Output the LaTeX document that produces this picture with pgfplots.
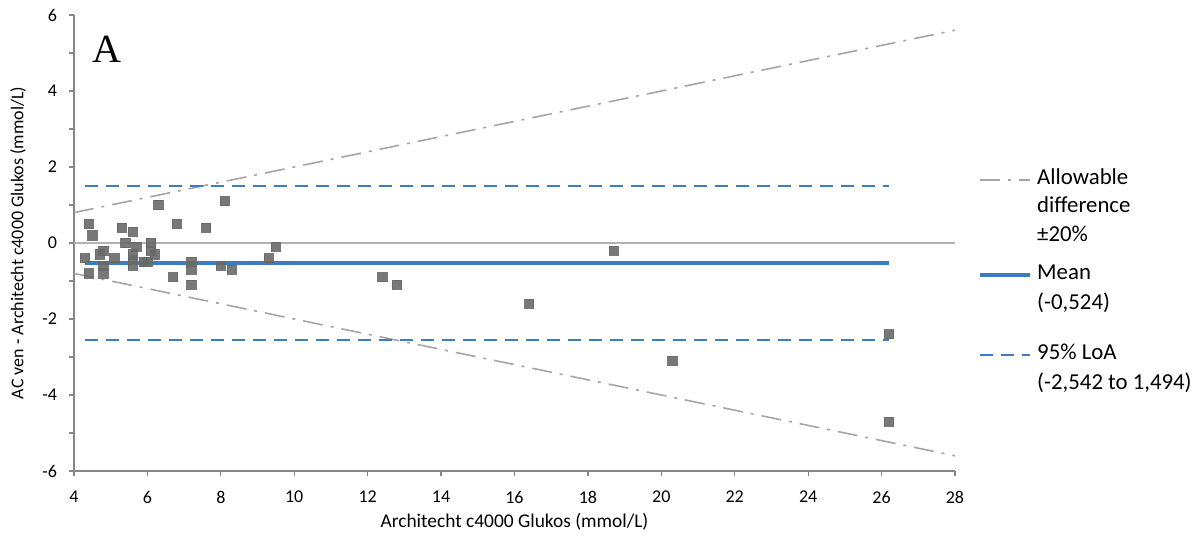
\documentclass[border=0pt]{standalone}
\usepackage{pgfplots}
\pgfplotsset{compat=1.18}
\usepackage{fontspec}
\setmainfont{Carlito}
\newfontfamily\titlefont{Liberation Serif}
\definecolor{dataGray}{RGB}{105,105,105}
\definecolor{meanBlue}{RGB}{58,125,194}
\definecolor{allowGray}{RGB}{165,165,165}
\definecolor{zeroGray}{RGB}{178,178,178}
\definecolor{axisGray}{RGB}{134,134,134}
\tikzset{
  legtxt/.style={anchor=mid west, inner sep=0pt, font=\fontsize{11.4}{13.7}\selectfont},
  allowline/.style={draw=allowGray, line width=0.8pt, dash pattern=on 10pt off 4pt on 1.5pt off 4pt},
  loaline/.style={draw=meanBlue, line width=1pt, dash pattern=on 6.5pt off 4pt},
  meanline/.style={draw=meanBlue, line width=2pt},
}
\begin{document}
\begin{tikzpicture}
\begin{axis}[
  scale only axis,
  width=440.5pt, height=228pt,
  xmin=4, xmax=28, ymin=-6, ymax=6,
  axis x line*=bottom, axis y line*=left,
  axis line style={axisGray, line width=0.6pt},
  xtick={4,6,...,28},
  ytick={-6,-4,...,6},
  minor ytick={-5,-3,...,5},
  tick align=outside,
  major tick length=2.5pt, minor tick length=2.5pt,
  tick style={axisGray, line width=0.6pt},
  every tick label/.append style={font=\fontsize{9}{10}\selectfont},
  x tick label style={yshift=-4pt},
  y tick label style={xshift=-2.5pt},
  /pgf/number format/assume math mode=true,
  xlabel={Architecht c4000 Glukos (mmol/L)},
  ylabel={AC ven - Architecht c4000 Glukos (mmol/L)},
  x label style={at={(axis description cs:0.5,-0.112)}, anchor=center, font=\fontsize{9.7}{11}\selectfont},
  y label style={at={(axis description cs:-0.0636,0.5)}, anchor=center, font=\fontsize{9}{11}\selectfont},
  clip=false,
]
% invisible frame to fix overall proportions
\path (rel axis cs:-0.084,-0.1425) (rel axis cs:1.2804,1.0329);

% zero line
\addplot[draw=zeroGray, line width=0.8pt] coordinates {(4,0) (28,0)};

% allowable difference +-20%
\addplot[allowline] coordinates {(4,0.8) (28,5.6)};
\addplot[allowline] coordinates {(4,-0.8) (28,-5.6)};

% limits of agreement
\addplot[loaline] coordinates {(4.3,-2.542) (26.2,-2.542)};
\addplot[loaline] coordinates {(4.3,1.494) (26.2,1.494)};

% mean
\addplot[meanline] coordinates {(4.3,-0.524) (26.2,-0.524)};

% data
\addplot[only marks, mark=square*, mark size=2.3pt, mark options={draw=dataGray, fill=dataGray, fill opacity=0.9, draw opacity=0.9}] coordinates {
(4.3,-0.4) (4.4,0.5) (4.4,-0.8) (4.5,0.2) (4.7,-0.3) (4.8,-0.2) (4.8,-0.6) (4.8,-0.8)
(5.1,-0.4) (5.3,0.4) (5.4,0.0) (5.6,0.3) (5.6,-0.3) (5.6,-0.45) (5.6,-0.6) (5.7,-0.1)
(5.9,-0.5) (6.0,-0.5) (6.1,0.0) (6.1,-0.2) (6.2,-0.3) (6.3,1.0) (6.7,-0.9) (6.8,0.5)
(7.2,-0.5) (7.2,-0.7) (7.2,-1.1) (7.6,0.4) (8.0,-0.6) (8.1,1.1) (8.3,-0.7) (9.3,-0.4)
(9.5,-0.1) (12.4,-0.9) (12.8,-1.1) (16.4,-1.6) (18.7,-0.2) (20.3,-3.1) (26.2,-2.4) (26.2,-4.7)
};

% title
\node[font=\titlefont\fontsize{20}{22}\selectfont] at (rel axis cs:0.037,0.925) {A};

% legend (drawn by hand to match layout)
\draw[allowline] (axis cs:28.68,1.658) -- (axis cs:30.04,1.658);
\draw[meanline] (axis cs:28.68,-0.842) -- (axis cs:30.04,-0.842);
\draw[loaline] (axis cs:28.68,-2.947) -- (axis cs:30.04,-2.947);
\node[legtxt] at (axis cs:30.23,1.658) {Allowable};
\node[legtxt] at (axis cs:30.23,0.921) {difference};
\node[legtxt] at (axis cs:30.23,0.158) {±20\%};
\node[legtxt] at (axis cs:30.23,-0.842) {Mean};
\node[legtxt] at (axis cs:30.23,-1.632) {(-0,524)};
\node[legtxt] at (axis cs:30.23,-2.947) {95\% LoA};
\node[legtxt] at (axis cs:30.23,-3.737) {(-2,542 to 1,494)};
\end{axis}
\end{tikzpicture}
\end{document}
